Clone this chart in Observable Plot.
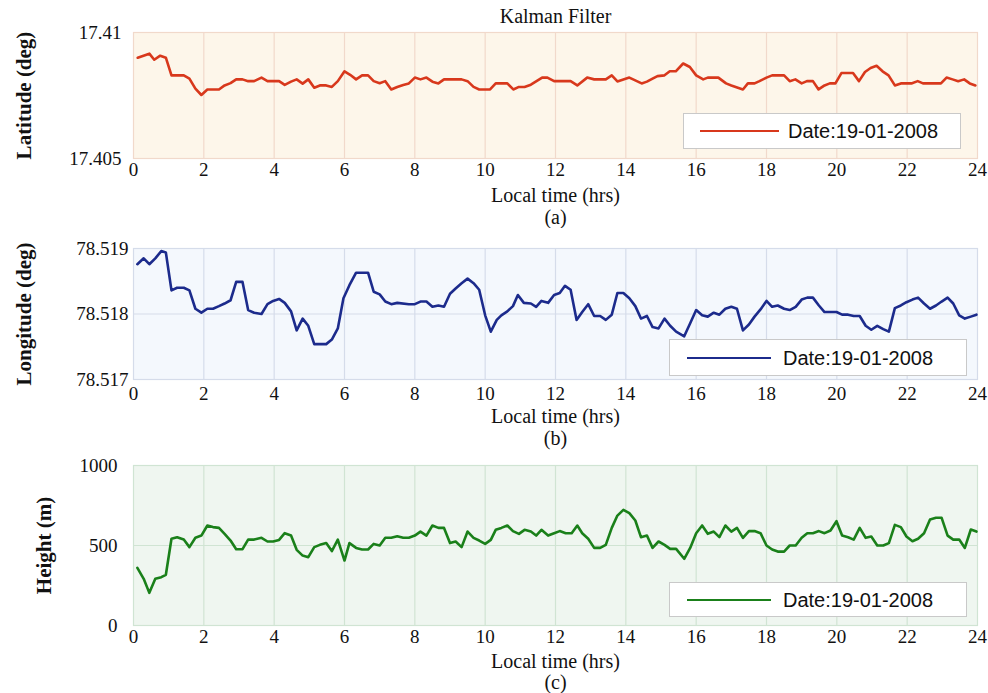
<!DOCTYPE html>
<html><head><meta charset="utf-8">
<script src="https://cdn.jsdelivr.net/npm/d3@7"></script>
<script src="https://cdn.jsdelivr.net/npm/@observablehq/plot@0.6"></script>
<style>
body{margin:0;background:#fff;}
#wrap{position:relative;width:988px;height:693px;overflow:hidden;}
.panel{position:absolute;left:0;}
.legend{position:absolute;background:#fff;border:1px solid #c9c9c9;box-sizing:border-box;font-family:"Liberation Sans",Arial,sans-serif;font-size:20px;color:#111;}
.legend .ln{position:absolute;height:0;border-top:2.6px solid;}
.legend .tx{position:absolute;top:50%;transform:translateY(-50%);white-space:nowrap;}
</style></head>
<body>
<div id="wrap"></div>
<script>
// ---------- data ----------
const title = "Kalman Filter";
const xLabel = "Local time (hrs)";
const legendLabel = "Date:19-01-2008";
const xTicks = [0, 2, 4, 6, 8, 10, 12, 14, 16, 18, 20, 22, 24];

const latTicks = [17.405, 17.41];
const latTime = [0.12,0.45,0.59,0.76,0.92,1.08,1.43,1.59,1.76,1.93,2.10,2.43,2.59,2.76,2.92,3.10,3.26,3.43,3.64,3.81,4.14,4.30,4.48,4.64,4.81,4.97,5.14,5.30,5.48,5.64,5.81,6.00,6.16,6.33,6.50,6.67,6.83,7.00,7.16,7.33,7.50,7.67,7.83,8.00,8.16,8.33,8.50,8.67,8.83,9.00,9.16,9.33,9.50,9.67,9.83,10.14,10.30,10.63,10.80,10.96,11.12,11.30,11.62,11.77,11.96,12.43,12.62,12.90,13.10,13.43,13.60,13.76,14.10,14.45,14.60,14.76,14.90,15.10,15.25,15.42,15.63,15.82,16.00,16.20,16.33,16.63,16.85,17.00,17.33,17.47,17.66,17.80,18.00,18.16,18.50,18.66,18.82,19.00,19.15,19.32,19.48,19.65,19.80,19.96,20.13,20.46,20.63,20.80,20.96,21.13,21.30,21.47,21.65,21.82,22.12,22.30,22.45,22.96,23.12,23.29,23.45,23.62,23.78,23.94];
const latValue = [17.40900,17.40916,17.40892,17.40908,17.40900,17.40830,17.40830,17.40817,17.40777,17.40752,17.40774,17.40774,17.40790,17.40799,17.40814,17.40814,17.40807,17.40807,17.40821,17.40807,17.40807,17.40792,17.40805,17.40814,17.40797,17.40814,17.40781,17.40790,17.40790,17.40784,17.40807,17.40846,17.40832,17.40814,17.40830,17.40830,17.40807,17.40799,17.40807,17.40774,17.40784,17.40792,17.40798,17.40821,17.40814,17.40821,17.40805,17.40798,17.40814,17.40814,17.40814,17.40814,17.40807,17.40784,17.40774,17.40774,17.40798,17.40798,17.40774,17.40784,17.40784,17.40793,17.40821,17.40821,17.40807,17.40807,17.40790,17.40821,17.40814,17.40814,17.40830,17.40806,17.40821,17.40798,17.40805,17.40817,17.40827,17.40830,17.40846,17.40846,17.40877,17.40863,17.40830,17.40814,17.40821,17.40821,17.40798,17.40790,17.40774,17.40798,17.40798,17.40807,17.40821,17.40830,17.40830,17.40807,17.40814,17.40798,17.40807,17.40807,17.40774,17.40790,17.40798,17.40798,17.40839,17.40839,17.40807,17.40843,17.40859,17.40868,17.40846,17.40830,17.40790,17.40798,17.40798,17.40807,17.40798,17.40798,17.40821,17.40814,17.40807,17.40814,17.40798,17.40790];

const lonTicks = [78.517, 78.518, 78.519];
const lonTime = [0.11,0.29,0.45,0.62,0.79,0.92,1.08,1.24,1.43,1.59,1.76,1.93,2.10,2.26,2.43,2.59,2.76,2.92,3.10,3.26,3.43,3.64,3.81,3.97,4.14,4.30,4.48,4.64,4.81,4.97,5.14,5.48,5.64,5.81,5.97,6.14,6.33,6.67,6.83,7.00,7.16,7.33,7.50,7.83,8.00,8.16,8.33,8.50,8.67,8.83,9.00,9.16,9.33,9.50,9.67,9.83,10.00,10.16,10.33,10.46,10.63,10.79,10.93,11.10,11.30,11.45,11.60,11.79,11.96,12.12,12.27,12.43,12.60,12.76,12.93,13.10,13.27,13.43,13.60,13.76,13.93,14.10,14.27,14.43,14.60,14.76,14.93,15.10,15.26,15.43,15.66,15.83,16.00,16.17,16.33,16.50,16.66,16.83,17.00,17.16,17.33,17.50,17.66,17.83,18.00,18.16,18.32,18.50,18.66,18.83,19.00,19.16,19.32,19.49,19.65,19.99,20.15,20.32,20.48,20.65,20.82,20.98,21.15,21.32,21.48,21.65,21.82,21.98,22.15,22.31,22.48,22.65,22.82,22.98,23.15,23.31,23.48,23.64,23.81,23.97];
const lonValue = [78.51876,78.51885,78.51876,78.51885,78.51896,78.51894,78.51836,78.51840,78.51840,78.51836,78.51808,78.51802,78.51808,78.51808,78.51812,78.51816,78.51821,78.51849,78.51849,78.51806,78.51802,78.51800,78.51815,78.51820,78.51823,78.51817,78.51804,78.51775,78.51793,78.51782,78.51754,78.51754,78.51761,78.51778,78.51824,78.51844,78.51863,78.51863,78.51834,78.51830,78.51819,78.51815,78.51817,78.51815,78.51815,78.51819,78.51819,78.51811,78.51813,78.51811,78.51831,78.51839,78.51847,78.51854,78.51847,78.51837,78.51798,78.51773,78.51791,78.51798,78.51804,78.51812,78.51829,78.51817,78.51816,78.51811,78.51820,78.51817,78.51829,78.51832,78.51843,78.51837,78.51791,78.51803,78.51815,78.51797,78.51797,78.51791,78.51799,78.51832,78.51832,78.51824,78.51812,78.51793,78.51797,78.51780,78.51778,78.51793,78.51782,78.51773,78.51766,78.51786,78.51806,78.51798,78.51796,78.51802,78.51799,78.51808,78.51811,78.51808,78.51775,78.51784,78.51796,78.51807,78.51820,78.51811,78.51813,78.51808,78.51806,78.51811,78.51822,78.51825,78.51825,78.51813,78.51803,78.51803,78.51799,78.51799,78.51797,78.51797,78.51782,78.51776,78.51782,78.51777,78.51773,78.51809,78.51813,78.51818,78.51822,78.51825,78.51816,78.51808,78.51813,78.51819,78.51825,78.51816,78.51798,78.51793,78.51796,78.51799];

const hTicks = [0, 500, 1000];
const hTime = [0.11,0.29,0.45,0.62,0.79,0.92,1.08,1.24,1.43,1.59,1.76,1.93,2.10,2.26,2.43,2.59,2.76,2.92,3.10,3.26,3.43,3.64,3.81,3.97,4.14,4.30,4.48,4.64,4.81,4.97,5.14,5.30,5.48,5.64,5.81,6.00,6.14,6.33,6.50,6.67,6.83,7.00,7.16,7.33,7.50,7.67,7.83,8.00,8.16,8.33,8.50,8.67,8.83,9.00,9.16,9.33,9.50,9.67,9.83,10.00,10.16,10.30,10.46,10.63,10.79,10.96,11.12,11.30,11.45,11.60,11.79,11.96,12.12,12.29,12.46,12.62,12.76,12.93,13.10,13.27,13.43,13.60,13.76,13.93,14.10,14.27,14.43,14.60,14.76,14.93,15.10,15.26,15.43,15.66,15.83,16.00,16.17,16.33,16.50,16.66,16.83,17.00,17.16,17.33,17.50,17.66,17.83,18.00,18.16,18.32,18.50,18.66,18.83,19.00,19.16,19.32,19.49,19.65,19.82,19.99,20.15,20.32,20.48,20.65,20.82,20.98,21.15,21.32,21.48,21.65,21.82,21.98,22.15,22.31,22.48,22.65,22.82,22.98,23.15,23.31,23.48,23.64,23.81,23.97];
const hValue = [360,292,204,292,302,317,542,552,537,490,548,562,625,615,610,573,531,477,477,537,537,548,525,525,535,577,562,473,437,427,490,504,515,465,537,406,515,485,475,475,510,500,548,548,558,548,548,562,587,562,625,610,610,515,525,490,587,548,531,510,535,598,610,625,590,573,598,587,562,598,562,577,590,577,577,625,577,542,485,485,504,610,687,723,702,656,552,562,485,525,504,479,479,417,485,577,625,573,587,552,625,587,610,548,590,590,577,500,475,462,462,500,500,548,577,577,590,577,594,652,562,552,537,610,548,556,500,500,515,629,615,556,527,542,577,662,673,673,562,537,537,485,600,587];

// ---------- drawing ----------
const wrap = document.getElementById("wrap");
const serif = '"Liberation Serif", "Times New Roman", serif';

function panel(cfg) {
  const data = cfg.time.map((t, i) => ({t, v: cfg.value[i]}));
  const marks = [
    Plot.frame({fill: cfg.fill, stroke: cfg.grid, strokeWidth: 1.2}),
    Plot.gridX(xTicks.slice(1, -1), {stroke: cfg.grid, strokeOpacity: 1, strokeWidth: 1.2}),
    Plot.gridY(cfg.ticks.slice(1, -1), {stroke: cfg.grid, strokeOpacity: 1, strokeWidth: 1.2}),
    Plot.axisX(xTicks, {tickSize: 0, tickPadding: cfg.xPad, label: null}),
    Plot.axisY(cfg.ticks, {tickSize: 0, tickPadding: cfg.yPad, label: null, tickFormat: d => String(d)}),
    Plot.line(data, {x: "t", y: "v", stroke: cfg.stroke, strokeWidth: 2.6}),
    Plot.text([xLabel], {text: d => d, frameAnchor: "bottom", dy: cfg.labelDy, lineAnchor: "middle", fontSize: 20}),
    Plot.text([cfg.sub], {text: d => d, frameAnchor: "bottom", dy: cfg.subDy, lineAnchor: "middle", fontSize: 20}),
    Plot.text([cfg.ylabel], {text: d => d, frameAnchor: "left", textAnchor: "middle", rotate: -90, dx: cfg.yLabelDx, lineAnchor: "middle", fontSize: 21, fontWeight: "bold"})
  ];
  if (cfg.title) marks.push(Plot.text([cfg.title], {text: d => d, frameAnchor: "top", dy: -16, lineAnchor: "middle", fontSize: 20}));
  const p = Plot.plot({
    width: 988, height: cfg.height,
    marginTop: cfg.mt, marginBottom: cfg.mb, marginLeft: 133, marginRight: 11,
    x: {domain: [0, 24]},
    y: {domain: [cfg.ticks[0], cfg.ticks[cfg.ticks.length - 1]]},
    style: {fontFamily: serif, fontSize: "19px", color: "#111", background: "transparent"},
    marks
  });
  p.classList.add("panel");
  p.style.top = cfg.top + "px";
  wrap.appendChild(p);

  const lg = document.createElement("div");
  lg.className = "legend";
  Object.assign(lg.style, {left: cfg.lg[0] + "px", top: cfg.lg[1] + "px", width: cfg.lg[2] + "px", height: cfg.lg[3] + "px"});
  const ln = document.createElement("div");
  ln.className = "ln";
  Object.assign(ln.style, {left: cfg.lgLine[0] + "px", width: cfg.lgLine[1] + "px", top: (cfg.lg[3] / 2 - 2) + "px", borderTopColor: cfg.stroke});
  const tx = document.createElement("div");
  tx.className = "tx";
  tx.style.left = cfg.lgText + "px";
  tx.textContent = legendLabel;
  lg.appendChild(ln); lg.appendChild(tx);
  wrap.appendChild(lg);
}

panel({time: latTime, value: latValue, ticks: latTicks, top: 0, height: 228, mt: 32, mb: 70,
  fill: "#fdf6ea", grid: "#f1d9cb", stroke: "#d8381c", xPad: 4, yPad: 12, labelDy: 37, subDy: 59,
  sub: "(a)", ylabel: "Latitude (deg)", yLabelDx: -109, title,
  lg: [683, 113, 278, 36], lgLine: [16, 79], lgText: 104});

panel({time: lonTime, value: lonValue, ticks: lonTicks, top: 228, height: 222, mt: 20, mb: 71,
  fill: "#f4f8fd", grid: "#d5dcea", stroke: "#1c2b8c", xPad: 7, yPad: 5, labelDy: 37, subDy: 59,
  sub: "(b)", ylabel: "Longitude (deg)", yLabelDx: -109,
  lg: [669, 339, 298, 37], lgLine: [17, 84], lgText: 113});

panel({time: hTime, value: hValue, ticks: hTicks, top: 450, height: 243, mt: 15, mb: 68,
  fill: "#eff6f0", grid: "#d0e4d3", stroke: "#1a801a", xPad: 4, yPad: 16, labelDy: 36, subDy: 57,
  sub: "(c)", ylabel: "Height (m)", yLabelDx: -89,
  lg: [669, 582, 298, 35], lgLine: [17, 84], lgText: 113});
</script>
</body></html>
